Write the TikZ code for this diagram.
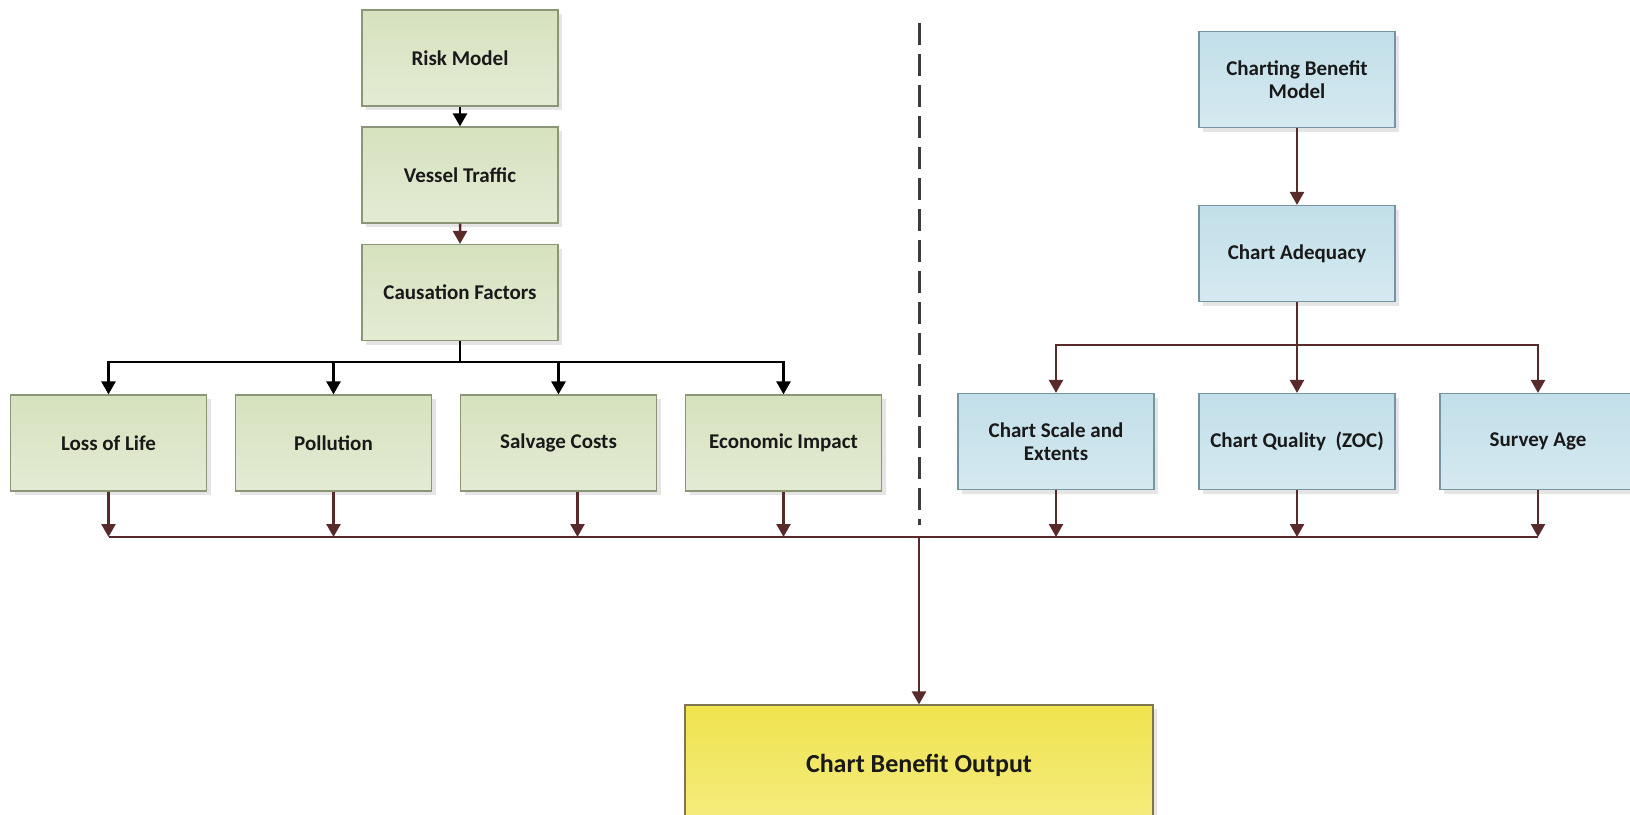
\documentclass[tikz,border=0pt]{standalone}
\usepackage{fontspec}
\setmainfont{Carlito}
\usetikzlibrary{calc}
\usetikzlibrary{trees}
\usetikzlibrary{arrows.meta}
\usetikzlibrary{shadows}

\definecolor{riskfill}{RGB}{214,226,190}
\definecolor{riskfilllow}{RGB}{228,235,212}
\definecolor{riskdraw}{RGB}{138,150,118}
\definecolor{chartfill}{RGB}{194,223,233}
\definecolor{chartfilllow}{RGB}{213,233,240}
\definecolor{chartdraw}{RGB}{118,148,162}
\definecolor{outfill}{RGB}{239,227,78}
\definecolor{outfilllow}{RGB}{245,236,128}
\definecolor{outdraw}{RGB}{128,118,78}
\definecolor{linkbrown}{RGB}{88,42,42}
\definecolor{sepgray}{RGB}{60,60,60}

\begin{document}
\begin{tikzpicture}[x=1pt, y=-1pt,
	box/.style={rectangle, draw, line width=1.2pt, minimum width=196pt, minimum height=96pt, inner sep=4pt, align=center, text=black!90, font=\fontsize{21}{23}\selectfont\bfseries, drop shadow={shadow xshift=4pt, shadow yshift=-4pt, opacity=0.2}},
	risk node/.style={box, draw=riskdraw, top color=riskfill, bottom color=riskfilllow},
	chart node/.style={box, draw=chartdraw, top color=chartfill, bottom color=chartfilllow},
	output node/.style={box, draw=outdraw, top color=outfill, bottom color=outfilllow, minimum width=468pt, minimum height=120pt, font=\fontsize{26}{28}\selectfont\bfseries},
	link/.style={draw=linkbrown, line width=2.5pt, -{Triangle[width=14pt,length=13pt]}},
	black link/.style={link, draw=black},
	fork/.style={edge from parent path={(\tikzparentnode.south) -- ++(0pt,-#1) -| (\tikzchildnode.north)}},
	left levels/.style={
		level 1/.style={level distance=117pt, edge from parent/.style={black link}},
		level 2/.style={level distance=117.5pt, edge from parent/.style={link}},
		level 3/.style={level distance=150.5pt, sibling distance=225pt, fork=21pt, edge from parent/.style={black link}}},
	right levels/.style={
		level 1/.style={level distance=174pt},
		level 2/.style={level distance=188pt, sibling distance=241pt, fork=43pt}},
	edge from parent/.style={link}]
	
	\useasboundingbox (0,0) rectangle (1630,814);
	\fill[white] (0,0) rectangle (1630,814);
	
	\begin{scope}[left levels]
	\node[risk node] (risk) at (460,58) {Risk Model}
	child {
		node[risk node] (traffic) {Vessel Traffic}
		child {
			node[risk node] (causation) {Causation Factors}
			child { node[risk node, xshift=-14pt] (life) {Loss of Life} }
			child { node[risk node, xshift=-14pt] (pollution) {Pollution} }
			child { node[risk node, xshift=-14pt] (salvage) {Salvage Costs} }
			child { node[risk node, xshift=-14pt] (economic) {Economic Impact} }
		}
	};
	\end{scope}
	
	\begin{scope}[right levels]
	\node[chart node] (benefit) at (1297,79.5) {Charting Benefit\\Model}
	child {
		node[chart node] (adequacy) {Chart Adequacy}
		child { node[chart node] (scale) {Chart Scale and\\Extents} }
		child { node[chart node] (quality) {Chart Quality~~(ZOC)} }
		child { node[chart node] (survey) {Survey Age} }
	};
	\end{scope}
	
	\coordinate (merge) at (919,537);
	\node[output node] (output) at (919,765) {Chart Benefit Output};
	\foreach \n in {life,pollution,economic,scale,quality,survey}
		\draw[link] (\n.south) -- (\n.south |- merge);
	\draw[link] ([xshift=19pt]salvage.south) -- ([xshift=19pt]salvage.south |- merge);
	\draw[draw=linkbrown, line width=2.5pt] (life.south |- merge) -- (survey.south |- merge);
	\draw[link] (merge) -- (output.north);
	\draw[sepgray, line width=3pt, dash pattern=on 22pt off 9pt] (919,23) -- (919,525);
\end{tikzpicture}
\end{document}
